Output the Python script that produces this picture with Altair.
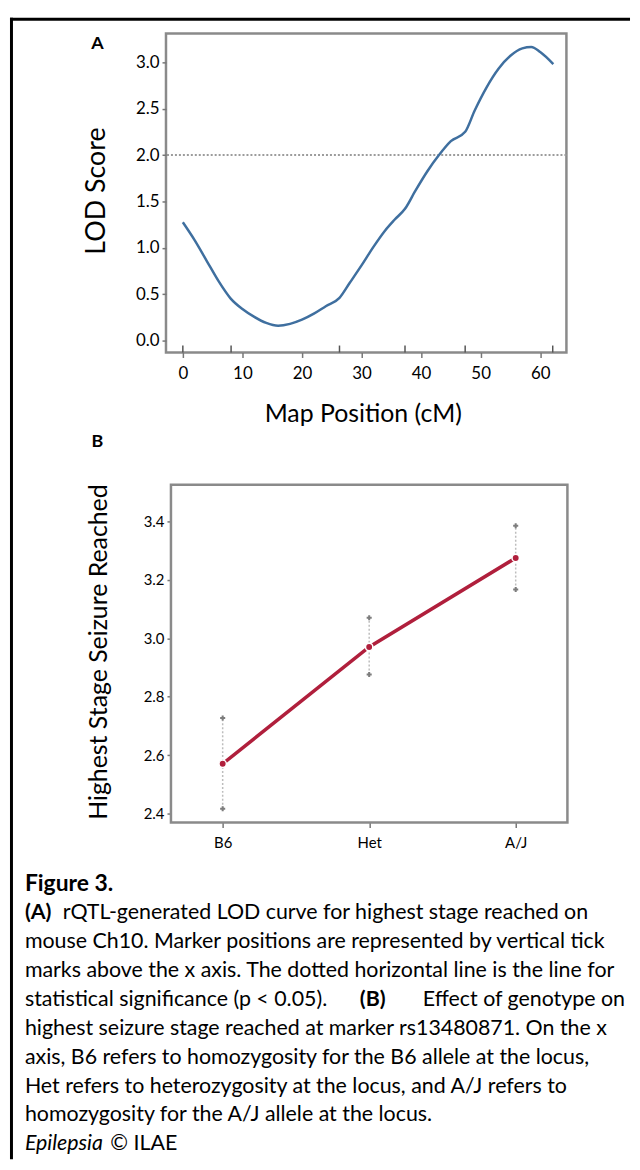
import altair as alt
import pandas as pd

FONT = "Lato"

# ---------------- Panel A data ----------------
map_pos = [0, 2, 4, 6, 8, 10, 12, 14, 16, 18, 20, 22, 24, 26.3, 28, 30, 32, 34, 35.5,
           37.3, 39, 41, 43, 45, 47.4, 49, 51, 53, 55, 57, 58.5, 60, 62.2]
lod = [1.275, 1.08, 0.86, 0.64, 0.455, 0.34, 0.255, 0.19, 0.16, 0.18, 0.225, 0.29, 0.37,
       0.46, 0.62, 0.81, 1.01, 1.19, 1.30, 1.42, 1.61, 1.82, 2.00, 2.15, 2.25, 2.48, 2.73,
       2.93, 3.07, 3.15, 3.165, 3.11, 2.98]
marker_pos = [0, 8.1, 26.3, 37.3, 47.4, 62.1]
threshold = [2.0]
x_ticks_a = [0, 10, 20, 30, 40, 50, 60]
y_ticks_a = [0.0, 0.5, 1.0, 1.5, 2.0, 2.5, 3.0]

# ---------------- Panel B data ----------------
genotypes = ["B6", "Het", "A/J"]
means = [2.57, 2.97, 3.275]
upper = [2.727, 3.07, 3.385]
lower = [2.416, 2.876, 3.167]
y_ticks_b = [2.4, 2.6, 2.8, 3.0, 3.2, 3.4]

# ---------------- Caption text ----------------
fig_title = ["Figure 3."]
line1_bold = ["(A)"]
line1_rest = ["rQTL-generated LOD curve for highest stage reached on"]
plain_idx = [2, 3, 5, 6, 7, 8]
plain_lines = [
    "mouse Ch10. Marker positions are represented by vertical tick",
    "marks above the x axis. The dotted horizontal line is the line for",
    "highest seizure stage reached at marker rs13480871. On the x",
    "axis, B6 refers to homozygosity for the B6 allele at the locus,",
    "Het refers to heterozygosity at the locus, and A/J refers to",
    "homozygosity for the A/J allele at the locus.",
]
line4_parts = ["statistical significance (p < 0.05).", "(B)", "Effect of genotype on"]
journal = ["Epilepsia"]
copyright_txt = ["\u00a9 ILAE"]

# ---------------- geometry (pixels, relative to each panel's origin) ----------------
WA, HA = 403, 321      # panel A plot area   (origin at page 165, 28)
WB, HB = 404, 340      # panel B plot area   (origin at page 165, 482; frame drawn from x=5)
WC, HC = 403, 200      # caption area        (origin at page 165, 955)
GAP = 133              # vertical spacing between the stacked panels
BL = -157              # left edge of the figure box, relative to panel origins
RED = "#b01f3c"
BLUE = "#3f6f9f"
FRAME = "#8a8a8a"

one = pd.DataFrame({"t": [0]})

def box_rect(x1, x2, y1, y2):
    return alt.Chart(one).mark_rect(color="black").encode(
        x=alt.value(x1), x2=alt.value(x2), y=alt.value(y1), y2=alt.value(y2))

# ---------------- Panel A ----------------
dfA = pd.DataFrame({"pos": map_pos, "lod": lod})
dfM = pd.DataFrame({"pos": marker_pos})
dfT = pd.DataFrame({"lod": threshold})

xA = alt.X("pos:Q",
           scale=alt.Scale(domain=[-2.83, 64.4], nice=False, zero=False),
           axis=alt.Axis(values=x_ticks_a, title="Map Position (cM)", tickSize=5,
                         labelFontSize=17, labelPadding=8, titleFontSize=25,
                         titleX=198, titleY=69, titleBaseline="alphabetic",
                         titleAlign="center"))
yA = alt.Y("lod:Q",
           scale=alt.Scale(domain=[-0.129, 3.31], nice=False, zero=False),
           axis=alt.Axis(values=y_ticks_a, format=".1f", title="LOD Score", tickSize=4,
                         labelFontSize=17, labelPadding=3, titleFontSize=27,
                         titleX=-70, titleY=158, titleAngle=270,
                         titleBaseline="middle", titleAlign="center"))

curve = alt.Chart(dfA).mark_line(color=BLUE, strokeWidth=2.5, interpolate="monotone").encode(x=xA, y=yA)
thr = alt.Chart(dfT).mark_rule(color="#9c9c9c", strokeWidth=2, strokeDash=[2, 2]).encode(y="lod:Q")
mk = alt.Chart(dfM).mark_rule(color="#555555", strokeWidth=1.5).encode(
    x="pos:Q", y=alt.value(HA), y2=alt.value(HA - 7))
labA = alt.Chart(pd.DataFrame({"t": ["A"]})).mark_text(
    fontSize=18, fontWeight="bold", font=FONT, align="center", baseline="middle", color="black"
).encode(text="t:N", x=alt.value(-69), y=alt.value(11))

panelA = alt.layer(
    box_rect(BL, 467, -16, -13),        # top edge of the figure box
    box_rect(BL, BL + 3, -16, 1133),    # left edge of the figure box
    thr, curve, mk, labA
).properties(width=WA, height=HA, view=alt.ViewBackground(stroke=FRAME, strokeWidth=2.5))

# ---------------- Panel B ----------------
dfB = pd.DataFrame({"geno": genotypes, "mean": means, "upper": upper, "lower": lower})
xB = alt.X("geno:N", sort=genotypes,
           scale=alt.Scale(type="point", padding=0.353, range=[5, WB]),
           axis=alt.Axis(title=None, labelAngle=0, labelFontSize=15, tickSize=5, labelPadding=8))
yscaleB = alt.Scale(domain=[2.369, 3.526], nice=False, zero=False)
yB = alt.Y("mean:Q", scale=yscaleB,
           axis=alt.Axis(values=y_ticks_b, format=".1f", title="Highest Stage Seizure Reached",
                         offset=-5, tickSize=4, labelFontSize=15, labelPadding=3, titleFontSize=25,
                         titleX=-73, titleY=168, titleAngle=270, titleBaseline="middle",
                         titleAlign="center"))

frameB = alt.Chart(one).mark_rect(filled=False, stroke=FRAME, strokeWidth=2.5).encode(
    x=alt.value(5), x2=alt.value(WB), y=alt.value(0), y2=alt.value(HB))
err = alt.Chart(dfB).mark_rule(color="#bdbdbd", strokeWidth=1.5, strokeDash=[2, 2]).encode(
    x=xB, y=alt.Y("lower:Q", scale=yscaleB), y2="upper:Q")
endU = alt.Chart(dfB).mark_point(shape="cross", filled=True, size=26, color="#7d7d7d", opacity=1).encode(
    x=xB, y=alt.Y("upper:Q", scale=yscaleB))
endL = alt.Chart(dfB).mark_point(shape="cross", filled=True, size=26, color="#7d7d7d", opacity=1).encode(
    x=xB, y=alt.Y("lower:Q", scale=yscaleB))
lineB = alt.Chart(dfB).mark_line(color=RED, strokeWidth=3.5).encode(x=xB, y=yB)
ptsB = alt.Chart(dfB).mark_circle(size=55, color=RED, opacity=1, stroke="white", strokeWidth=1.5).encode(x=xB, y=yB)
labB = alt.Chart(pd.DataFrame({"t": ["B"]})).mark_text(
    fontSize=18, fontWeight="bold", font=FONT, align="center", baseline="middle", color="black"
).encode(text="t:N", x=alt.value(-69), y=alt.value(-43))

panelB = alt.layer(
    frameB, lineB, err, endU, endL, ptsB, labB
).properties(width=WB, height=HB, view=alt.ViewBackground(stroke="transparent"))

# ---------------- Caption ----------------
# caption origin sits at page y = 955; lines run from page y 884 to 1146
ycap = alt.Scale(domain=[0, 9], range=[-71, 191], nice=False, zero=False)
CAP_FS = 21.5
CAP_X = -142

def cap_text(idx, texts, x, weight="normal", style="normal", align="left", fs=CAP_FS):
    d = pd.DataFrame({"idx": idx, "txt": texts})
    return alt.Chart(d).mark_text(font=FONT, fontSize=fs, fontWeight=weight, fontStyle=style,
                                  align=align, baseline="middle", color="black").encode(
        text="txt:N", x=alt.value(x), y=alt.Y("idx:Q", scale=ycap, axis=None))

cap_layers = [
    cap_text([0], fig_title, CAP_X, weight="bold", fs=23),
    cap_text([1], line1_bold, CAP_X, weight="bold"),
    cap_text([1], line1_rest, CAP_X + 38),
    cap_text(plain_idx, plain_lines, CAP_X),
    cap_text([4], line4_parts[:1], CAP_X),
    cap_text([4], line4_parts[1:2], 208, weight="bold", align="center"),
    cap_text([4], line4_parts[2:], 462, align="right"),
    cap_text([9], journal, CAP_X, style="italic"),
    cap_text([9], copyright_txt, -56),
]

caption = alt.layer(*cap_layers).properties(
    width=WC, height=HC, view=alt.ViewBackground(stroke="transparent"))

chart = alt.vconcat(panelA, panelB, caption, spacing=GAP, bounds="flush").properties(
    padding={"left": 0, "top": 4, "right": 0, "bottom": 0}
).configure(font=FONT).configure_axis(
    labelFont=FONT, titleFont=FONT, labelColor="black", titleColor="black",
    titleFontWeight="normal", domain=False, grid=False, tickColor="#777777", tickWidth=1.5
)

chart.save("out.html", embed_options={"renderer": "svg", "actions": False})
